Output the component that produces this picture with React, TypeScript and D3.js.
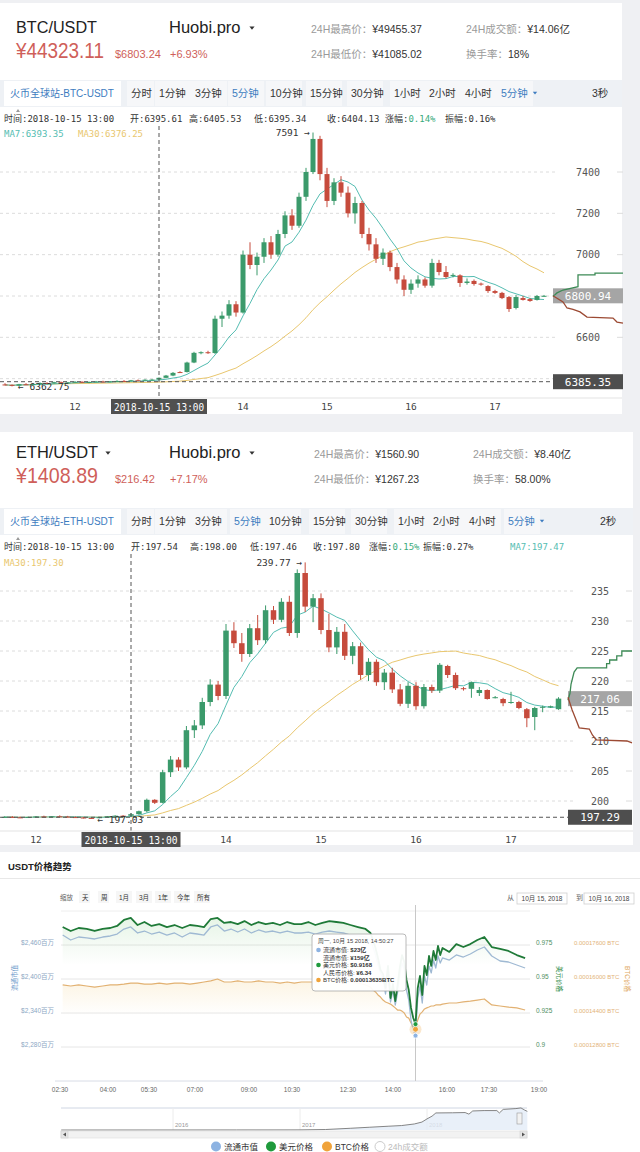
import React, { useEffect } from "react";
import * as d3 from "d3";

// ================= DATA =================
// BTC/USDT 5-minute candles [open, high, low, close], first candle at 11:10
const btcFirstCandle = "11:10";
const btcOHLC: number[][] = [
  [6372, 6378, 6368, 6370], [6370, 6372, 6362.75, 6366], [6366, 6375, 6365, 6373], [6373, 6378, 6370, 6371],
  [6371, 6376, 6368, 6374], [6374, 6382, 6372, 6379], [6379, 6383, 6375, 6377], [6377, 6385, 6376, 6383],
  [6383, 6386, 6378, 6380], [6380, 6384, 6377, 6382], [6382, 6388, 6380, 6385], [6385, 6387, 6379, 6381],
  [6381, 6386, 6378, 6384], [6384, 6389, 6382, 6386], [6386, 6390, 6382, 6384], [6384, 6388, 6381, 6387],
  [6387, 6392, 6385, 6389], [6389, 6393, 6386, 6388], [6388, 6394, 6387, 6392], [6392, 6396, 6389, 6391],
  [6391, 6397, 6390, 6395], [6395, 6398, 6392, 6395.6],
  [6395.61, 6405.53, 6395.34, 6404.13], [6404, 6418, 6402, 6415], [6415, 6432, 6412, 6428], [6432, 6436, 6428, 6430],
  [6432, 6482, 6430, 6478], [6478, 6530, 6475, 6525], [6525, 6532, 6518, 6528], [6528, 6535, 6520, 6524],
  [6524, 6705, 6520, 6690], [6690, 6725, 6650, 6705], [6705, 6780, 6690, 6760], [6760, 6775, 6700, 6720],
  [6720, 7020, 6715, 7000], [7000, 7060, 6930, 6950], [6950, 7010, 6900, 6990], [6990, 7080, 6960, 7060],
  [7060, 7090, 6980, 7000], [7000, 7120, 6990, 7100], [7100, 7210, 7080, 7190], [7190, 7220, 7120, 7140],
  [7140, 7300, 7130, 7280], [7280, 7420, 7260, 7400], [7400, 7591, 7390, 7560], [7560, 7575, 7360, 7390],
  [7390, 7420, 7230, 7260], [7260, 7370, 7240, 7350], [7350, 7380, 7280, 7300], [7300, 7330, 7180, 7200],
  [7200, 7280, 7150, 7250], [7250, 7260, 7080, 7100], [7100, 7130, 7020, 7050], [7050, 7080, 6960, 6980],
  [6980, 7030, 6950, 7010], [7010, 7020, 6920, 6940], [6940, 6960, 6860, 6880], [6880, 6900, 6800, 6830],
  [6830, 6880, 6810, 6860], [6860, 6900, 6840, 6880], [6880, 6890, 6840, 6850], [6850, 6980, 6840, 6960],
  [6960, 6975, 6900, 6916], [6916, 6945, 6885, 6892], [6900, 6910, 6890, 6902], [6900, 6905, 6844, 6863],
  [6863, 6885, 6855, 6870], [6873, 6880, 6850, 6858], [6860, 6865, 6850, 6856], [6848, 6852, 6815, 6824],
  [6824, 6830, 6810, 6815], [6815, 6820, 6785, 6790], [6795, 6800, 6723, 6737], [6742, 6805, 6735, 6795],
  [6790, 6800, 6778, 6781], [6785, 6790, 6772, 6776], [6781, 6805, 6778, 6800], [6800, 6805, 6796, 6800.94],
];
const btcPriceTicks = [6400, 6600, 6800, 7000, 7200, 7400];
const btcHourTicks = [12, 14, 15, 16, 17];
const btcLast = 6800.94;
const btcCursorPrice = 6385.35;
const btcCursorTime = "13:00";
// depth [cumulative volume, price]
const btcAsks: number[][] = [[0, 6800], [2, 6806], [4, 6815], [10, 6829], [25, 6845], [25, 6902], [42, 6902], [42, 6911], [70, 6911]];
const btcBids: number[][] = [[0, 6800], [2, 6795], [10, 6771], [14, 6742], [20, 6735], [27, 6723], [34, 6698], [60, 6693], [64, 6674], [70, 6669]];

// ETH/USDT 5-minute candles, first candle at 11:40
const ethFirstCandle = "11:40";
const ethOHLC: number[][] = [
  [197.30, 197.45, 197.20, 197.35], [197.35, 197.50, 197.25, 197.28], [197.28, 197.40, 197.15, 197.22], [197.22, 197.38, 197.18, 197.33],
  [197.33, 197.48, 197.28, 197.42], [197.42, 197.55, 197.35, 197.38], [197.38, 197.50, 197.30, 197.45], [197.45, 197.60, 197.38, 197.40],
  [197.40, 197.52, 197.28, 197.32], [197.32, 197.42, 197.20, 197.25], [197.25, 197.35, 197.10, 197.18], [197.18, 197.28, 197.03, 197.15],
  [197.15, 197.35, 197.12, 197.30], [197.30, 197.50, 197.25, 197.45], [197.45, 197.62, 197.40, 197.55], [197.55, 197.65, 197.45, 197.54],
  [197.54, 198.00, 197.46, 197.80], [197.80, 198.40, 197.70, 198.30], [198.30, 200.40, 198.10, 200.20], [200.20, 200.30, 199.50, 199.70],
  [199.70, 205.20, 199.60, 204.80], [204.80, 207.50, 204.00, 206.90], [206.90, 207.30, 205.00, 205.60], [205.60, 212.50, 205.30, 211.80],
  [211.80, 213.50, 210.50, 212.60], [212.60, 217.20, 212.00, 216.50], [216.50, 220.30, 215.80, 219.40], [219.40, 220.00, 216.80, 217.50],
  [217.50, 229.50, 217.00, 228.40], [228.40, 229.80, 225.50, 226.30], [226.30, 228.00, 223.20, 224.50], [224.50, 229.50, 224.00, 228.80],
  [228.80, 231.00, 226.00, 226.80], [226.80, 232.60, 226.20, 231.80], [231.80, 232.50, 229.50, 230.20], [230.20, 233.80, 229.80, 233.20],
  [233.20, 234.20, 227.50, 228.00], [228.00, 238.60, 227.20, 238.00], [238.00, 239.77, 231.50, 232.40], [232.40, 234.50, 229.80, 233.80],
  [233.80, 234.60, 227.80, 228.50], [228.50, 231.20, 224.80, 225.60], [225.60, 229.00, 224.50, 228.20], [228.20, 229.50, 223.50, 224.20],
  [224.20, 226.50, 222.80, 225.80], [225.80, 226.40, 220.20, 221.00], [221.00, 223.80, 220.00, 223.20], [223.20, 223.60, 219.20, 219.80],
  [219.80, 222.00, 218.50, 221.40], [221.40, 222.20, 218.00, 218.60], [218.60, 219.50, 215.80, 216.20], [216.20, 219.80, 215.50, 219.20],
  [219.20, 219.80, 215.20, 215.80], [215.80, 219.50, 215.40, 219.00], [219.00, 219.40, 218.00, 218.40], [218.40, 223.00, 218.00, 222.70],
  [222.50, 222.70, 220.50, 221.00], [221.00, 221.40, 218.50, 218.80], [218.80, 219.00, 218.40, 218.70], [218.70, 219.90, 217.20, 219.80],
  [218.00, 219.00, 217.50, 218.50], [218.50, 218.60, 216.90, 217.00], [217.20, 217.50, 217.10, 217.30], [217.00, 217.20, 215.80, 216.30],
  [216.40, 218.20, 216.20, 216.50], [216.50, 216.70, 215.30, 215.50], [215.30, 215.50, 212.30, 213.80], [214.00, 215.70, 211.80, 215.50],
  [215.60, 215.90, 214.80, 215.70], [215.60, 215.90, 215.50, 215.80], [215.30, 217.30, 215.20, 217.06],
];
const ethPriceTicks = [200, 205, 210, 215, 220, 225, 230, 235];
const ethHourTicks = [12, 14, 15, 16, 17];
const ethLast = 217.06;
const ethCursorPrice = 197.29;
const ethCursorTime = "13:00";
const ethAsks: number[][] = [[0, 216.8], [2, 218.0], [3, 219.5], [6, 221.5], [9, 222.2], [38, 222.2], [38, 222.9], [41, 222.9], [41, 223.5], [48, 223.5], [48, 224.2], [53, 224.2], [53, 225.0], [63, 225.0]];
const ethBids: number[][] = [[0, 217.3], [4, 215.2], [8, 213.5], [11, 212.2], [21, 212.0], [24, 211.0], [28, 210.2], [58, 210.0], [63, 209.7]];

// header texts
const btcStats = [["24H最高价：", "¥49455.37"], ["24H最低价：", "¥41085.02"], ["24H成交额：", "¥14.06亿"], ["换手率：", "18%"]];
const ethStats = [["24H最高价：", "¥1560.90"], ["24H最低价：", "¥1267.23"], ["24H成交额：", "¥8.40亿"], ["换手率：", "58.00%"]];
const periodTabs = ["分时", "1分钟", "3分钟", "5分钟", "10分钟", "15分钟", "30分钟", "1小时", "2小时", "4小时", "5分钟"];
const btcInfo = [["时间:", "2018-10-15 13:00"], ["开:", "6395.61"], ["高:", "6405.53"], ["低:", "6395.34"], ["收:", "6404.13"], ["涨幅:", "0.14%"], ["振幅:", "0.16%"]];
const ethInfo = [["时间:", "2018-10-15 13:00"], ["开:", "197.54"], ["高:", "198.00"], ["低:", "197.46"], ["收:", "197.80"], ["涨幅:", "0.15%"], ["振幅:", "0.27%"]];

// USDT price trend (10-15)
const usdtTimes = ["02:35", "02:50", "03:05", "03:20", "03:35", "03:50", "04:05", "04:20", "04:35", "04:50", "05:05", "05:20", "05:35", "05:50", "06:05", "06:20", "06:35", "06:50", "07:05", "07:20", "07:35", "07:50", "08:05", "08:20", "08:35", "08:50", "09:05", "09:20", "09:35", "09:50", "10:05", "10:20", "10:35", "10:50", "11:05", "11:20", "11:35", "11:50", "12:05", "12:20", "12:35", "12:50", "13:05", "13:15", "13:20", "13:25", "13:30", "13:35", "13:40", "13:45", "13:50", "13:55", "14:00", "14:05", "14:10", "14:15", "14:20", "14:25", "14:30", "14:35", "14:40", "14:45", "14:50", "14:55", "15:00", "15:05", "15:10", "15:15", "15:20", "15:25", "15:30", "15:35", "15:40", "15:45", "15:50", "16:05", "16:20", "16:35", "16:50", "17:05", "17:20", "17:35", "17:50", "18:05", "18:20", "18:35"];
const usdtCapM = [2477.6, 2468.8, 2474.1, 2472.4, 2470.6, 2474.1, 2475.9, 2479.4, 2488.2, 2491.8,
  2481.2, 2484.7, 2479.4, 2482.9, 2477.6, 2481.2, 2474.1, 2481.2, 2479.4, 2477.6,
  2491.8, 2495.3, 2484.7, 2488.2, 2482.9, 2488.2, 2481.2, 2486.5, 2482.9, 2484.7,
  2481.2, 2484.7, 2481.2, 2481.2, 2482.9, 2479.4, 2482.9, 2484.7, 2482.9, 2481.2,
  2477.6, 2475.9, 2474.1, 2467.1, 2456.5, 2442.4, 2424.7, 2410.6, 2401.8, 2373.5,
  2405.3, 2359.4, 2380.6, 2354.1, 2375.3, 2405.3, 2428.2, 2415.9, 2380.6, 2362.9,
  2327.6, 2310.0, 2300.0, 2366.5, 2387.6, 2357.6, 2405.3, 2389.4, 2422.9, 2410.6,
  2433.5, 2419.4, 2440.6, 2428.2, 2437.1, 2433.5, 2442.4, 2438.8, 2444.1, 2451.2,
  2456.5, 2440.6, 2431.8, 2430.0, 2424.7, 2419.4];
const usdtUsd = [0.9882, 0.9853, 0.9875, 0.9868, 0.9853, 0.9868, 0.9875, 0.9890, 0.9934, 0.9949,
  0.9897, 0.9919, 0.9890, 0.9904, 0.9882, 0.9897, 0.9875, 0.9897, 0.9890, 0.9882,
  0.9941, 0.9949, 0.9912, 0.9919, 0.9904, 0.9926, 0.9897, 0.9919, 0.9904, 0.9912,
  0.9897, 0.9919, 0.9904, 0.9904, 0.9919, 0.9897, 0.9912, 0.9926, 0.9919, 0.9912,
  0.9897, 0.9882, 0.9868, 0.9838, 0.9787, 0.9728, 0.9654, 0.9566, 0.9537, 0.9434,
  0.9596, 0.9360, 0.9463, 0.9338, 0.9449, 0.9581, 0.9676, 0.9625, 0.9493, 0.9419,
  0.9287, 0.9213, 0.9168, 0.9434, 0.9522, 0.9382, 0.9596, 0.9529, 0.9669, 0.9596,
  0.9706, 0.9640, 0.9743, 0.9676, 0.9728, 0.9699, 0.9757, 0.9735, 0.9757, 0.9787,
  0.9809, 0.9735, 0.9721, 0.9706, 0.9676, 0.9654];
const usdtBtc = [0.0001572, 0.0001567, 0.0001572, 0.0001567, 0.0001562, 0.0001567, 0.0001572, 0.0001572, 0.0001576, 0.0001581,
  0.0001581, 0.0001576, 0.0001576, 0.0001581, 0.0001576, 0.0001581, 0.0001581, 0.0001576, 0.0001581, 0.0001586,
  0.0001591, 0.0001600, 0.0001586, 0.0001586, 0.0001591, 0.0001586, 0.0001586, 0.0001591, 0.0001586, 0.0001586,
  0.0001581, 0.0001586, 0.0001581, 0.0001586, 0.0001586, 0.0001586, 0.0001591, 0.0001595, 0.0001595, 0.0001591,
  0.0001586, 0.0001581, 0.0001572, 0.0001562, 0.0001548, 0.0001539, 0.0001525, 0.0001515, 0.0001501, 0.0001492,
  0.0001487, 0.0001482, 0.0001473, 0.0001464, 0.0001454, 0.0001454, 0.0001449, 0.0001440, 0.0001421, 0.0001416,
  0.0001393, 0.0001379, 0.00013635, 0.0001407, 0.0001435, 0.0001445, 0.0001459, 0.0001464, 0.0001468, 0.0001473,
  0.0001473, 0.0001478, 0.0001478, 0.0001478, 0.0001482, 0.0001487, 0.0001487, 0.0001492, 0.0001496, 0.0001501,
  0.0001506, 0.0001478, 0.0001473, 0.0001468, 0.0001464, 0.0001454];
const usdtTickHours = [2.5, 4, 5.5, 7, 9, 10.5, 12.5, 14, 16, 17.5, 19];
const usdtTickLabels = ["02:30", "04:00", "05:30", "07:00", "09:00", "10:30", "12:30", "14:00", "16:00", "17:30", "19:00"];
const usdtCapTicks = [2280, 2340, 2400, 2460];
const usdtUsdTicks = [0.9, 0.925, 0.95, 0.975];
const usdtBtcTicks = [0.000128, 0.000144, 0.00016, 0.000176];
const usdtHoverTime = "14:50";
const rangeButtons = ["天", "周", "1月", "3月", "1年", "今年", "所有"];
const tipTitle = "周一, 10月 15 2018, 14:50:27";
const tipRows = [["流通市值: ", "$23亿", "cap"], ["流通市值: ", "¥159亿", ""], ["美元价格: ", "$0.9168", "usd"], ["人民币价格: ", "¥6.34", ""], ["BTC价格: ", "0.00013635BTC", "btc"]];
const legendItems = ["流通市值", "美元价格", "BTC价格", "24h成交额"];
// navigator: whole history of market cap (百万)
const navYears = [2015.12, 2016.0, 2016.5, 2017.0, 2017.2, 2017.4, 2017.55, 2017.7, 2017.8, 2017.9, 2017.96, 2018.0, 2018.04, 2018.07, 2018.2, 2018.3, 2018.33, 2018.36, 2018.45, 2018.55, 2018.57, 2018.6, 2018.7, 2018.74, 2018.77, 2018.79];
const navCap = [0, 5, 8, 15, 60, 220, 350, 480, 560, 760, 1000, 1400, 1750, 2150, 2170, 2200, 2000, 2400, 2450, 2450, 2150, 2600, 2700, 2780, 2500, 2350];
const navYearTicks = [2016, 2017, 2018];

// ================= STYLE =================
const SANS = "'Liberation Sans', Arial, 'Noto Sans CJK SC', sans-serif";
const MONO = "'DejaVu Sans Mono', 'Liberation Mono', 'Noto Sans CJK SC', monospace";
const UP = "#3b9a6b";
const DOWN = "#c64b3c";
const MA7C = "#55bdb2";
const MA30C = "#e9c76f";
const RED_TXT = "#cf5f5a";
const BLUE_TXT = "#3d7cc0";
const C_CAP = "#9fb9d3";
const C_USD = "#1f7a38";
const C_BTC = "#e2b172";

const hm = (s: string) => {
  const [h, m] = s.split(":").map(Number);
  return h * 60 + m;
};
const movingAverage = (vals: number[], n: number) =>
  vals.map((_, i) => d3.mean(vals.slice(Math.max(0, i - n + 1), i + 1)) as number);

function Tri({ x, y, s = 3, fill = "#333" }) {
  return <path d={`M${x - s},${y - s * 0.6}L${x + s},${y - s * 0.6}L${x},${y + s * 0.7}Z`} fill={fill} />;
}

function Header({ top, pair, price, usd, pct, stats, pairW, priceW, statsX, pairTri }) {
  return (
    <g fontFamily={SANS}>
      <text x={16} y={top + 33} fontSize={16} fill="#222" textLength={pairW} lengthAdjust="spacingAndGlyphs">{pair}</text>
      {pairTri ? <Tri x={pairTri} y={top + 28} s={2.6} /> : null}
      <text x={169} y={top + 33} fontSize={16.5} fill="#222">Huobi.pro</text>
      <Tri x={252} y={top + 28} s={2.6} />
      <text x={16} y={top + 58} fontSize={22} fill={RED_TXT} textLength={priceW} lengthAdjust="spacingAndGlyphs">{price}</text>
      <text x={115} y={top + 58} fontSize={11} fill={RED_TXT}>{usd}</text>
      <text x={170} y={top + 58} fontSize={11} fill={RED_TXT}>{pct}</text>
      {stats.map((s, i) => (
        <text key={i} x={statsX[Math.floor(i / 2)]} y={top + (i % 2 === 0 ? 33 : 58)} fontSize={10.5}>
          <tspan fill="#9a9a9a">{s[0]}</tspan>
          <tspan fill="#333">{s[1]}</tspan>
        </text>
      ))}
    </g>
  );
}

function Toolbar({ top, title, tabX, secs, secsX, right }) {
  return (
    <g fontFamily={SANS}>
      <rect x={0} y={top} width={right} height={27} fill="#eef1f5" />
      <rect x={4} y={top + 1} width={117} height={25} fill="#ffffff" />
      <text x={10} y={top + 17} fontSize={10} fill={BLUE_TXT}>{title}</text>
      {periodTabs.map((t, i) => (
        <g key={i}>
          <rect x={tabX[i] - 4} y={top + 1} width={t.length > 2 ? 36 : 27} height={25} fill="#f6f7f9" />
          <text x={tabX[i]} y={top + 17} fontSize={10.5} fill={i === 3 || i === 10 ? BLUE_TXT : "#333"}>{t}</text>
        </g>
      ))}
      <Tri x={tabX[10] + 34} y={top + 13} s={2.2} fill={BLUE_TXT} />
      <text x={secsX} y={top + 17} fontSize={10.5} fill="#333">{secs}</text>
      <path d={`M16,${top + 32}L20,${top + 32}L18,${top + 29}Z`} fill="#999" />
    </g>
  );
}

function KChart({ c }) {
  const t0 = hm(c.start);
  const tx = (i: number) => c.x(t0 + 5 * i);
  const closes = c.ohlc.map((d) => d[3]);
  const ma7 = movingAverage(closes, 7);
  const ma30 = movingAverage(closes, 30);
  const maLine = d3.line<number>().x((_, i) => tx(i)).y((v) => c.y(v));
  const hiIdx = d3.maxIndex(c.ohlc, (d) => d[1]);
  const loIdx = d3.minIndex(c.ohlc, (d) => d[2]);
  const dx = d3.scaleLinear().domain([0, c.depthMax]).range([c.boxX0, c.boxX1]);
  const depthLine = d3.line<number[]>().x((d) => dx(d[0])).y((d) => c.y(d[1]));
  const cx = c.x(hm(c.cursorTime));
  const cy = c.y(c.cursorPrice);
  const ly = c.y(c.last);
  const hidden = (v: number) => Math.abs(c.y(v) - ly) < 12 || Math.abs(c.y(v) - cy) < 12;
  return (
    <g>
      {c.priceTicks.map((v) => (
        <g key={v}>
          <line x1={0} x2={c.gridRight} y1={c.y(v)} y2={c.y(v)} stroke="#dcdcdc" strokeDasharray="3,3" />
          <line x1={c.boxX1 - 6} x2={c.boxX1} y1={c.y(v)} y2={c.y(v)} stroke="#dcdcdc" />
          {hidden(v) ? null : (
            <text x={c.labelX} y={c.y(v) + 3.5} textAnchor="middle" fontFamily={MONO} fontSize={10} fill="#555">{v}</text>
          )}
        </g>
      ))}
      <path d={maLine(ma30) || ""} fill="none" stroke={MA30C} strokeWidth={1} />
      <path d={maLine(ma7) || ""} fill="none" stroke={MA7C} strokeWidth={1} />
      {c.ohlc.map((d, i) => {
        const [o, h, l, cl] = d;
        const col = cl >= o ? UP : DOWN;
        const top = c.y(Math.max(o, cl));
        const bot = c.y(Math.min(o, cl));
        const xx = tx(i);
        return (
          <g key={i}>
            <line x1={xx} x2={xx} y1={c.y(h)} y2={c.y(l)} stroke={col} strokeWidth={1} />
            <rect x={xx - c.bw / 2} y={top} width={c.bw} height={Math.max(1, bot - top)} fill={col} />
          </g>
        );
      })}
      <line x1={cx} x2={cx} y1={c.crossTop} y2={c.axisY} stroke="#555" strokeDasharray="4,3" />
      <line x1={0} x2={c.boxX0} y1={cy} y2={cy} stroke="#555" strokeDasharray="4,3" />
      <rect x={c.boxX0} y={ly - 7.5} width={c.boxX1 - c.boxX0} height={15} fill="#a5a5a5" />
      <text x={(c.boxX0 + c.boxX1) / 2} y={ly + 4} textAnchor="middle" fontFamily={MONO} fontSize={11} fill="#fff">{c.last}</text>
      <rect x={c.boxX0} y={cy - 7.5} width={c.boxX1 - c.boxX0} height={15} fill="#4e4e4e" />
      <text x={(c.boxX0 + c.boxX1) / 2} y={cy + 4} textAnchor="middle" fontFamily={MONO} fontSize={11} fill="#fff">{c.cursorPrice}</text>
      <path d={depthLine(c.asks) || ""} fill="none" stroke="#3d8a56" strokeWidth={1.3} />
      <path d={depthLine(c.bids) || ""} fill="none" stroke="#9c4a33" strokeWidth={1.3} />
      <line x1={0} x2={c.right} y1={c.axisY} y2={c.axisY} stroke="#e3e3e3" />
      {c.hourTicks.map((h) => (
        <text key={h} x={c.x(h * 60)} y={c.axisY + 12} textAnchor="middle" fontFamily={MONO} fontSize={9.5} fill="#444">{h}</text>
      ))}
      <rect x={cx - c.dateW / 2} y={c.axisY + 1} width={c.dateW} height={15} fill="#505050" />
      <text x={cx - c.dateW / 2 + 3} y={c.axisY + 12.5} fontFamily={MONO} fontSize={10} fill="#fff" textLength={c.dateW - 6} lengthAdjust="spacingAndGlyphs">2018-10-15 13:00</text>
      <text x={tx(hiIdx) - 3} y={c.y(c.ohlc[hiIdx][1]) + 3.5} textAnchor="end" fontFamily={MONO} fontSize={9.5} fill="#333">{`${c.ohlc[hiIdx][1]} →`}</text>
      <text x={tx(loIdx) + 6} y={c.y(c.ohlc[loIdx][2]) + 4} fontFamily={MONO} fontSize={9.5} fill="#333">{`← ${c.ohlc[loIdx][2]}`}</text>
    </g>
  );
}

function InfoLine({ y, info, xs, pctGreen }) {
  return (
    <g fontFamily={MONO} fontSize={9} fill="#333">
      {info.map((s, i) => (
        <text key={i} x={xs[i]} y={y}>
          <tspan>{s[0]}</tspan>
          <tspan fill={i === pctGreen ? "#3aab7c" : "#333"}>{s[1]}</tspan>
        </text>
      ))}
    </g>
  );
}

export default function App() {
  useEffect(() => {
    document.body.style.margin = "0";
  }, []);

  const btcCfg = {
    ohlc: btcOHLC, start: btcFirstCandle,
    x: d3.scaleLinear().domain([720, 1020]).range([75, 495]),
    y: d3.scaleLinear().domain([6800, 7400]).range([296, 172]),
    bw: 5, priceTicks: btcPriceTicks, hourTicks: btcHourTicks,
    gridRight: 557, labelX: 588, boxX0: 553, boxX1: 623, right: 622,
    axisY: 398, crossTop: 126, cursorTime: btcCursorTime, cursorPrice: btcCursorPrice,
    last: btcLast, asks: btcAsks, bids: btcBids, depthMax: 70, dateW: 96,
  };
  const ethCfg = {
    ohlc: ethOHLC, start: ethFirstCandle,
    x: d3.scaleLinear().domain([720, 1020]).range([36, 511]),
    y: d3.scaleLinear().domain([200, 235]).range([801, 591]),
    bw: 5.5, priceTicks: ethPriceTicks, hourTicks: ethHourTicks,
    gridRight: 573, labelX: 600, boxX0: 568, boxX1: 632, right: 633,
    axisY: 831, crossTop: 554, cursorTime: ethCursorTime, cursorPrice: ethCursorPrice,
    last: ethLast, asks: ethAsks, bids: ethBids, depthMax: 63, dateW: 99,
  };

  const usdtTickPx = [60, 108, 149, 195, 249, 292, 348, 393, 447, 489, 539];
  const ux = d3.scaleLinear().domain(usdtTickHours).range(usdtTickPx);
  const hours = usdtTimes.map((s) => hm(s) / 60);
  const yCap = d3.scaleLinear().domain([2220, 2520]).range([1081, 911]);
  const yUsd = d3.scaleLinear().domain([0.875, 1.0]).range([1081, 911]);
  const yBtc = d3.scaleLinear().domain([0.000112, 0.000192]).range([1081, 911]);
  const mk = (ys: any) => d3.line<number>().x((_, i) => ux(hours[i])).y((v) => ys(v));
  const mkArea = (ys: any, base: number) => d3.area<number>().x((_, i) => ux(hours[i])).y0(base).y1((v) => ys(v));
  const hoverIdx = usdtTimes.indexOf(usdtHoverTime);
  const hx = ux(hours[hoverIdx]);
  const navX = d3.scaleLinear().domain([2016, 2018]).range([173, 427]);
  const navY = d3.scaleLinear().domain([0, 2900]).range([1130, 1107]);
  const navLine = d3.line<number>().x((_, i) => navX(navYears[i])).y((v) => navY(v));
  const navArea = d3.area<number>().x((_, i) => navX(navYears[i])).y0(1130).y1((v) => navY(v));
  const fmtBtc = (v: number) => v.toFixed(8) + " BTC";
  const dotColor = { cap: "#8db3e2", usd: "#1f9a3c", btc: "#f0a33a" };
  const legendX = [216, 271, 327, 380];
  const legendColors = ["#8db3e2", "#1f9a3c", "#f0a33a", "none"];
  const btnX = [82, 101, 119, 139, 158, 177, 197];

  return (
    <div style={{ position: "absolute", left: 0, top: 0 }}>
      <svg width={640} height={1152} style={{ display: "block" }}>
        <defs>
          <linearGradient id="gUsd" x1="0" y1="915" x2="0" y2="965" gradientUnits="userSpaceOnUse">
            <stop offset="0" stopColor="#5cb85c" stopOpacity={0.16} />
            <stop offset="1" stopColor="#5cb85c" stopOpacity={0} />
          </linearGradient>
          <linearGradient id="gBtc" x1="0" y1="975" x2="0" y2="1015" gradientUnits="userSpaceOnUse">
            <stop offset="0" stopColor="#f0c060" stopOpacity={0.2} />
            <stop offset="1" stopColor="#f0c060" stopOpacity={0} />
          </linearGradient>
        </defs>
        <rect x={0} y={0} width={640} height={1152} fill="#eff0f3" />

        {/* ===== BTC block ===== */}
        <rect x={0} y={3} width={622} height={411} fill="#fff" />
        <Header top={0} pair="BTC/USDT" price="¥44323.11" usd="$6803.24" pct="+6.93%" stats={btcStats} pairW={81} priceW={88} statsX={[311, 466]} pairTri={null} />
        <Toolbar top={80} title="火币全球站-BTC-USDT" tabX={[131, 159, 195, 232, 270, 310, 351, 394, 429, 465, 501]} secs="3秒" secsX={592} right={622} />
        <InfoLine y={122} info={btcInfo} xs={[4, 130, 189, 254, 327, 385, 445]} pctGreen={5} />
        <text x={4} y={137} fontFamily={MONO} fontSize={9} fill={MA7C}>MA7:6393.35</text>
        <text x={78} y={137} fontFamily={MONO} fontSize={9} fill={MA30C}>MA30:6376.25</text>
        <KChart c={btcCfg} />

        {/* ===== ETH block ===== */}
        <rect x={0} y={432} width={633} height={413} fill="#fff" />
        <Header top={425} pair="ETH/USDT" price="¥1408.89" usd="$216.42" pct="+7.17%" stats={ethStats} pairW={82} priceW={82} statsX={[314, 473]} pairTri={108} />
        <Toolbar top={508} title="火币全球站-ETH-USDT" tabX={[131, 159, 195, 234, 269, 313, 355, 398, 433, 469, 508]} secs="2秒" secsX={600} right={633} />
        <InfoLine y={550} info={ethInfo} xs={[4, 131, 190, 250, 313, 369, 423]} pctGreen={5} />
        <text x={510} y={550} fontFamily={MONO} fontSize={9} fill={MA7C}>MA7:197.47</text>
        <text x={4} y={566} fontFamily={MONO} fontSize={9} fill={MA30C}>MA30:197.30</text>
        <KChart c={ethCfg} />

        {/* ===== USDT block ===== */}
        <rect x={0} y={852} width={640} height={300} fill="#fff" />
        <g fontFamily={SANS}>
          <text x={8} y={870} fontSize={9.5} fontWeight="bold" fill="#222">USDT价格趋势</text>
          <line x1={0} x2={640} y1={878.5} y2={878.5} stroke="#e8e8e8" />
          <text x={60} y={899.5} fontSize={6.5} fill="#666">缩放</text>
          {rangeButtons.map((b, i) => (
            <g key={b}>
              <rect x={btnX[i] - 3} y={891} width={b.length > 1 ? 16 : 11} height={12} fill="#f6f6f6" />
              <text x={btnX[i]} y={899.5} fontSize={6.5} fill="#333">{b}</text>
            </g>
          ))}
          <text x={507} y={900} fontSize={7} fill="#666">从</text>
          <rect x={517} y={893} width={50} height={11} fill="#fff" stroke="#cfcfcf" strokeWidth={0.8} />
          <text x={542} y={901} fontSize={6.5} fill="#444" textAnchor="middle">10月 15, 2018</text>
          <text x={576} y={900} fontSize={7} fill="#666">到</text>
          <rect x={584} y={893} width={50} height={11} fill="#fff" stroke="#cfcfcf" strokeWidth={0.8} />
          <text x={609} y={901} fontSize={6.5} fill="#444" textAnchor="middle">10月 16, 2018</text>

          <line x1={61} x2={530} y1={yCap(2520)} y2={yCap(2520)} stroke="#eeeeee" />
          {usdtCapTicks.map((v) => (
            <line key={v} x1={61} x2={530} y1={yCap(v)} y2={yCap(v)} stroke="#e6e6e6" />
          ))}
          <line x1={55} x2={543} y1={yCap(2220)} y2={yCap(2220)} stroke="#d8dce6" />
          {usdtCapTicks.map((v) => (
            <text key={v} x={54} y={yCap(v) - 0.5} fontSize={6.5} fill="#8ea8c4" textAnchor="end">{`$${d3.format(",")(v)}百万`}</text>
          ))}
          {usdtUsdTicks.map((v) => (
            <text key={v} x={536} y={yUsd(v) - 0.5} fontSize={6.5} fill="#4f8f5f">{v}</text>
          ))}
          {usdtBtcTicks.map((v) => (
            <text key={v} x={574} y={yBtc(v) - 0.5} fontSize={6} fill="#e3b37a">{fmtBtc(v)}</text>
          ))}
          <text transform="translate(17,978) rotate(-90)" fontSize={6.5} fill="#6d98c9" textAnchor="middle">流通市值</text>
          <text transform="translate(557,979) rotate(90)" fontSize={6.5} fill="#2c8a45" textAnchor="middle">美元价格</text>
          <text transform="translate(625,979) rotate(90)" fontSize={6.5} fill="#e0a860" textAnchor="middle">BTC价格</text>
          {usdtTickLabels.map((l, i) => (
            <text key={l} x={ux(usdtTickHours[i])} y={1092} fontSize={6.5} fill="#666" textAnchor="middle">{l}</text>
          ))}

          <path d={mkArea(yUsd, 965)(usdtUsd) || ""} fill="url(#gUsd)" />
          <path d={mkArea(yBtc, 1015)(usdtBtc) || ""} fill="url(#gBtc)" />
          <line x1={hx} x2={hx} y1={905} y2={1081} stroke="#c8c8c8" />
          <path d={mk(yBtc)(usdtBtc) || ""} fill="none" stroke={C_BTC} strokeWidth={1.2} strokeLinejoin="round" />
          <path d={mk(yCap)(usdtCapM) || ""} fill="none" stroke={C_CAP} strokeWidth={1.3} strokeLinejoin="round" />
          <path d={mk(yUsd)(usdtUsd) || ""} fill="none" stroke={C_USD} strokeWidth={1.8} strokeLinejoin="round" />
          <circle cx={hx} cy={yBtc(usdtBtc[hoverIdx])} r={6} fill="#f0a33a" opacity={0.25} />
          <circle cx={hx} cy={yBtc(usdtBtc[hoverIdx])} r={3} fill="#f0a33a" stroke="#fff" strokeWidth={0.8} />
          <circle cx={hx} cy={yUsd(usdtUsd[hoverIdx])} r={2.5} fill="#1f9a3c" stroke="#fff" strokeWidth={0.8} />
          <circle cx={hx} cy={yCap(usdtCapM[hoverIdx])} r={2.5} fill="#8db3e2" stroke="#fff" strokeWidth={0.8} />

          <rect x={312} y={934} width={94} height={57} rx={3} fill="rgba(255,255,255,0.95)" stroke="#a8a8a8" strokeWidth={0.8} />
          <text x={318} y={943} fontSize={5.8} fill="#444">{tipTitle}</text>
          {tipRows.map((r, i) => (
            <g key={i}>
              {r[2] ? <circle cx={318.5} cy={952 + i * 7.5 - 2} r={2.3} fill={dotColor[r[2]]} /> : null}
              <text x={323} y={952 + i * 7.5} fontSize={6} fill="#333">
                <tspan>{r[0]}</tspan>
                <tspan fontWeight="bold">{r[1]}</tspan>
              </text>
            </g>
          ))}

          <line x1={61} x2={527} y1={1108} y2={1108} stroke="#cfd6e3" />
          {navYearTicks.map((y) => (
            <g key={y}>
              <line x1={navX(y)} x2={navX(y)} y1={1108} y2={1130} stroke="#ececec" />
              <text x={navX(y) + 2} y={1127} fontSize={6} fill="#999">{y}</text>
            </g>
          ))}
          <path d={navArea(navCap) || ""} fill="#e4ecf7" opacity={0.8} />
          <path d={navLine(navCap) || ""} fill="none" stroke="#777" strokeWidth={0.9} />
          <rect x={517} y={1113} width={5} height={11} fill="#f2f2f2" stroke="#999" strokeWidth={0.6} />
          <rect x={61} y={1131} width={466} height={7} fill="#f2f2f2" stroke="#dedede" strokeWidth={0.6} />
          <rect x={61} y={1131} width={7} height={7} fill="#e6e6e6" stroke="#cfcfcf" strokeWidth={0.6} />
          <path d="M66,1132.5L63,1134.5L66,1136.5Z" fill="#555" />
          <rect x={520} y={1131} width={7} height={7} fill="#e6e6e6" stroke="#cfcfcf" strokeWidth={0.6} />
          <path d="M522,1132.5L525,1134.5L522,1136.5Z" fill="#555" />

          {legendItems.map((l, i) => (
            <g key={l}>
              <circle cx={legendX[i]} cy={1146.5} r={5} fill={legendColors[i]} stroke={i === 3 ? "#cccccc" : "none"} />
              <text x={legendX[i] + 8} y={1150} fontSize={8.5} fill={i === 3 ? "#bbbbbb" : "#333"}>{l}</text>
            </g>
          ))}
        </g>
      </svg>
    </div>
  );
}
